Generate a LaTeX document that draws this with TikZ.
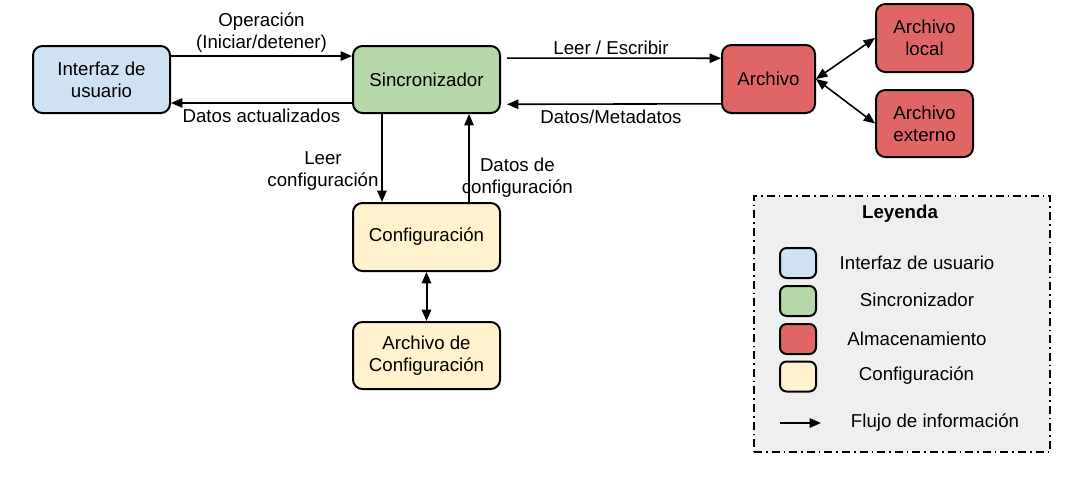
\documentclass[tikz,border=0pt]{standalone}
\usepackage{fontspec}
\setmainfont{Liberation Sans}
\usetikzlibrary{arrows.meta}

\definecolor{cui}{HTML}{CFE2F3}
\definecolor{csync}{HTML}{B6D7A8}
\definecolor{cstore}{HTML}{E06666}
\definecolor{cconf}{HTML}{FFF2CC}
\definecolor{clegend}{HTML}{EFEFEF}

\begin{document}
\begin{tikzpicture}[x=0.75pt, y=-0.75pt,
  every node/.style={font=\fontsize{14}{16.5}\selectfont},
  blk/.style={draw, line width=1.5pt, rounded corners=7pt, align=center, inner sep=0pt},
  swatch/.style={blk, rounded corners=5pt, minimum width=27pt, minimum height=22.5pt},
  flow/.style={-{Triangle[length=8.5pt,width=7pt]}, line width=1.2pt},
  both/.style={{Triangle[length=8.5pt,width=7pt]}-{Triangle[length=8.5pt,width=7pt]}, line width=1.2pt},
  lbl/.style={inner sep=2pt, align=center}]

  \newcommand\px{0.75pt}
  \useasboundingbox (0,0) rectangle (1066,486);

  %% blocks
  \node[blk, fill=cui, minimum width=137*\px, minimum height=67*\px] (ui) at (101.5,79.5) {Interfaz de\\usuario};
  \node[blk, fill=csync, minimum width=147*\px, minimum height=67*\px] (sync) at (426.5,79.5) {Sincronizador};
  \node[blk, fill=cstore, minimum width=93*\px, minimum height=68*\px] (file) at (768.5,79) {Archivo};
  \node[blk, fill=cstore, minimum width=97*\px, minimum height=68*\px] (local) at (924.5,38) {Archivo\\local};
  \node[blk, fill=cstore, minimum width=97*\px, minimum height=67*\px] (ext) at (924.5,123.5) {Archivo\\externo};
  \node[blk, fill=cconf, minimum width=147*\px, minimum height=68*\px] (conf) at (426.5,237) {Configuraci\'on};
  \node[blk, fill=cconf, minimum width=147*\px, minimum height=67*\px] (conffile) at (426.5,355.5) {Archivo de\\Configuraci\'on};

  %% connectors
  \draw[flow] ([yshift=17.6pt]ui.east) -- node[lbl, above]{Operaci\'on\\(Iniciar/detener)} ([yshift=17.6pt]sync.west);
  \draw[flow] ([yshift=-17.6pt]sync.west) -- node[lbl, below, inner sep=4pt]{Datos actualizados} ([yshift=-17.6pt]ui.east);

  \draw[flow, shorten <=4.5pt] ([yshift=16pt]sync.east) -- node[lbl, above]{Leer / Escribir} ([yshift=15.6pt]file.west);
  \draw[flow, shorten >=4.5pt] ([yshift=-18.6pt]file.west) -- node[lbl, below, inner sep=4pt]{Datos/Metadatos} ([yshift=-18.6pt]sync.east);

  \draw[both] (file.east) -- (local.west);
  \draw[both] (file.east) -- (ext.west);

  \draw[flow] ([xshift=-33.4pt]sync.south) -- node[lbl, pos=0.65, left]{Leer\\configuraci\'on} ([xshift=-33.4pt]conf.north);
  \draw[flow] ([xshift=31.9pt]conf.north) -- node[lbl, pos=0.28, right, xshift=-8pt]{Datos de\\configuraci\'on} ([xshift=31.9pt]sync.south);

  \draw[both, line width=1.5pt] (conf.south) -- (conffile.north);

  %% legend
  \node[draw, fill=clegend, line width=1.1pt, dash pattern={on 6pt off 3pt on 1.2pt off 3pt},
        minimum width=296*\px, minimum height=256*\px, inner sep=0pt] (leg) at (902,324) {};
  \node[font=\fontsize{14}{16.5}\selectfont\bfseries] (legtitle) at (900,214) {Leyenda};

  \node[swatch, fill=cui] (sw1) at (798,263) {};
  \node[swatch, fill=csync] (sw2) at (798,301) {};
  \node[swatch, fill=cstore] (sw3) at (798,339) {};
  \node[swatch, fill=cconf] (sw4) at (798,376.5) {};
  \node (tx1) at (917,263) {Interfaz de usuario};
  \node (tx2) at (917,300) {Sincronizador};
  \node (tx3) at (917,339) {Almacenamiento};
  \node (tx4) at (916.5,376) {Configuraci\'on};

  \coordinate (la1) at (780,423);
  \coordinate (la2) at (821,423);
  \draw[flow] (la1) -- (la2);
  \node (tx5) at (935,423) {Flujo de informaci\'on};
\end{tikzpicture}
\end{document}
